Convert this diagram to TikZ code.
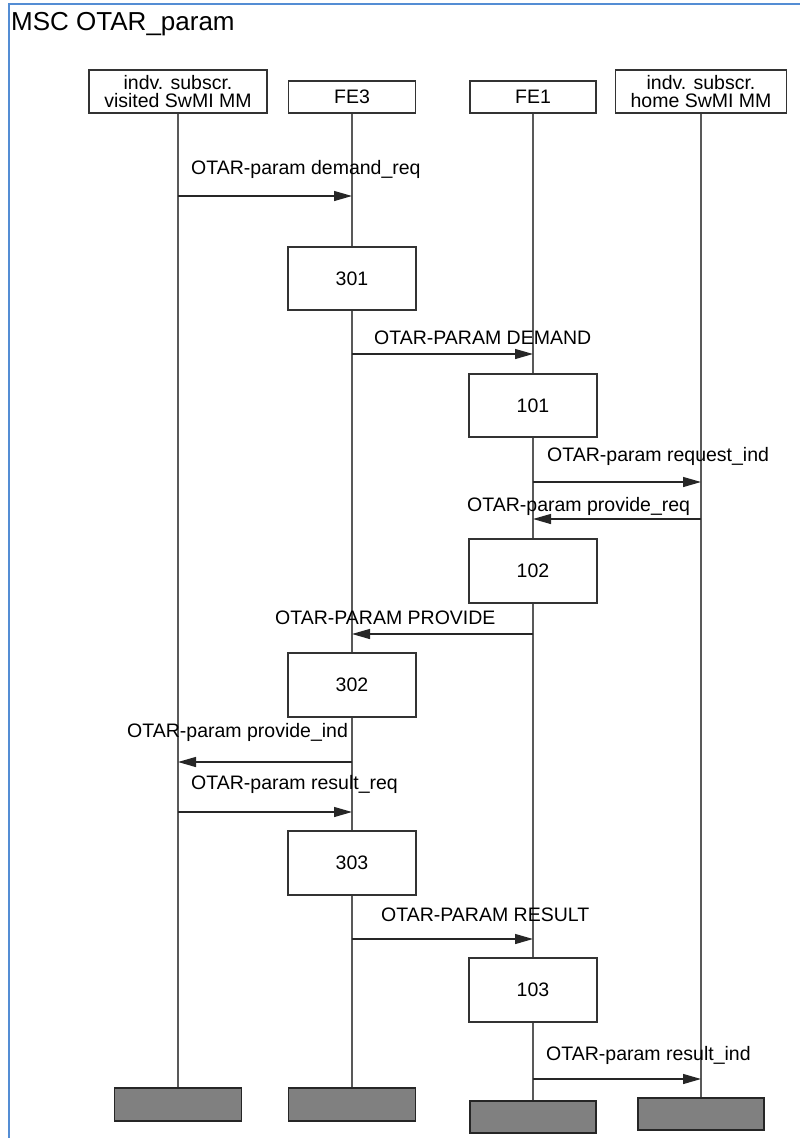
\documentclass[tikz,border=0pt]{standalone}
\usepackage{fontspec}
\setmainfont{Liberation Sans}
\usepackage{tikz}
\usetikzlibrary{arrows.meta, positioning, calc}
\usepackage{xcolor}
\definecolor{framec}{RGB}{84,141,212}
\newcommand{\lbl}{\fontsize{19.5}{17.5}\selectfont}
\newcommand{\ttl}{\fontsize{26}{30}\selectfont}
\tikzset{
  inst/.style  ={draw=black!80, fill=white, inner sep=0pt, line width=1.3pt, font=\lbl, align=center},
  act/.style   ={draw=black!80, fill=white, minimum width=128pt, minimum height=63pt, inner sep=0pt, line width=1.3pt, font=\lbl},
  endbox/.style={draw=black!85, fill=black!50, minimum width=127pt, minimum height=33pt, inner sep=0pt, line width=1.5pt},
  life/.style  ={draw=black!65, line width=1.4pt},
  msg/.style   ={-{Triangle[length=18pt, width=10pt]}, line width=1.3pt, black!85},
  mlab/.style  ={anchor=base west, inner sep=0pt, font=\lbl},
}

\begin{document}
\begin{tikzpicture}[x=1pt, y=-1pt]
  \useasboundingbox (0,0) rectangle (800,1138);
  \draw[framec, line width=2pt] (8.5,1138) -- (8.5,4) -- (800,4);
  \node[anchor=base west, inner sep=0pt, font=\ttl] (title) at (11,30) {MSC OTAR\_param};
  \node[inst, minimum width=178pt, minimum height=43pt] (h1) at (178,91.5) {indv. subscr.\\visited SwMI MM};
  \node[inst, minimum width=127pt, minimum height=32pt] (h2) at (352,97) {FE3};
  \node[inst, minimum width=126pt, minimum height=32pt] (h3) at (533,97) {FE1};
  \node[inst, minimum width=171pt, minimum height=43pt] (h4) at (701,91.5) {indv. subscr.\\home SwMI MM};
  \node[endbox] (e1) at (178,1104.5) {};
  \node[endbox] (e2) at (352,1104.5) {};
  \node[endbox, minimum width=126pt, minimum height=32pt] (e3) at (533,1117) {};
  \node[endbox, minimum width=126pt, minimum height=32pt] (e4) at (701,1114) {};
  \draw[life] (h1.south) -- (e1.north); \draw[life] (h2.south) -- (e2.north);
  \draw[life] (h3.south) -- (e3.north); \draw[life] (h4.south) -- (e4.north);
  \node[act] (a301) at (352,278.5) {301};
  \node[act] (a101) at (533,405.5) {101};
  \node[act, minimum height=64pt] (a102) at (533,571) {102};
  \node[act, minimum height=64pt] (a302) at (352,685) {302};
  \node[act, minimum height=64pt] (a303) at (352,863) {303};
  \node[act, minimum height=64pt] (a103) at (533,990) {103};
  \coordinate (m1) at (0,196);  \coordinate (m2) at (0,354);  \coordinate (m3) at (0,482);
  \coordinate (m4) at (0,519);  \coordinate (m5) at (0,634);  \coordinate (m6) at (0,762);
  \coordinate (m7) at (0,812);  \coordinate (m8) at (0,939);  \coordinate (m9) at (0,1079);
  \draw[msg] (h1 |- m1) -- (h2 |- m1); \node[mlab] (t1) at (191,174) {OTAR-param demand\_req};
  \draw[msg] (h2 |- m2) -- (h3 |- m2); \node[mlab] (t2) at (374,344) {OTAR-PARAM DEMAND};
  \draw[msg] (h3 |- m3) -- (h4 |- m3); \node[mlab] (t3) at (547,461) {OTAR-param request\_ind};
  \draw[msg] (h4 |- m4) -- (h3 |- m4); \node[mlab] (t4) at (467,511) {OTAR-param provide\_req};
  \draw[msg] (h3 |- m5) -- (h2 |- m5); \node[mlab] (t5) at (275,624) {OTAR-PARAM PROVIDE};
  \draw[msg] (h2 |- m6) -- (h1 |- m6); \node[mlab] (t6) at (127,737) {OTAR-param provide\_ind};
  \draw[msg] (h1 |- m7) -- (h2 |- m7); \node[mlab] (t7) at (191,789) {OTAR-param result\_req};
  \draw[msg] (h2 |- m8) -- (h3 |- m8); \node[mlab] (t8) at (381,921) {OTAR-PARAM RESULT};
  \draw[msg] (h3 |- m9) -- (h4 |- m9); \node[mlab] (t9) at (546,1060) {OTAR-param result\_ind};
\end{tikzpicture}
\end{document}
